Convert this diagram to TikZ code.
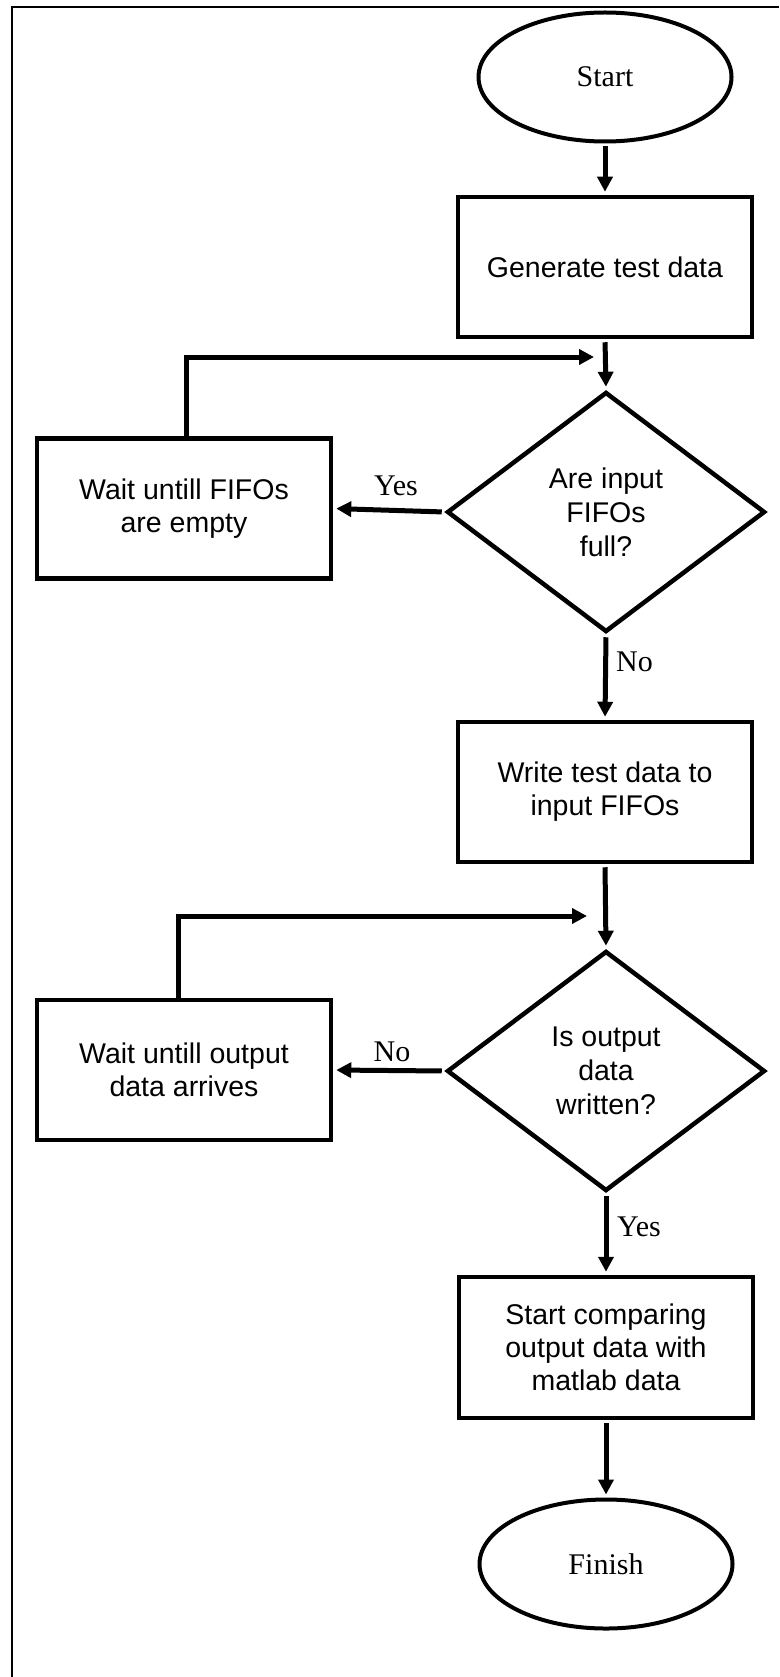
\documentclass[tikz,border=0pt]{standalone}
\usepackage{fontspec}
\setmainfont{Liberation Serif}
\newfontfamily\arialfont{Liberation Sans}
\usetikzlibrary{shapes.geometric,arrows.meta}

\begin{document}
\begin{tikzpicture}[x=1pt,y=-1pt,
  every node/.style={inner sep=0pt},
  procbox/.style={draw, rectangle, line width=4.5pt, minimum width=294pt,
    minimum height=140pt, align=center,
    font=\arialfont\fontsize{28.5}{33}\selectfont},
  termbox/.style={draw, ellipse, line width=4pt, minimum width=253pt,
    minimum height=129pt, font=\fontsize{30}{36}\selectfont},
  decbox/.style={draw, diamond, line width=4.5pt, aspect=1.325,
    minimum width=318pt, minimum height=240pt, align=center,
    font=\arialfont\fontsize{28.5}{34}\selectfont},
  flow/.style={-{Triangle[length=15pt,width=15pt]}, line width=5pt,
    shorten <=3pt, shorten >=3pt},
  loopline/.style={-{Triangle[length=15pt,width=15pt]}, line width=5pt},
  lbl/.style={font=\fontsize{30}{36}\selectfont}
]
\useasboundingbox (0,0) rectangle (779,1677);

% page frame
\draw[line width=2pt] (12,1677) -- (12,7.5) -- (779,7.5);

% nodes
\node[termbox] (start) at (605,77) {Start};
\node[procbox] (gen) at (605,267) {Generate test data};
\node[decbox] (full) at (606,512) {Are input\\FIFOs\\full?};
\node[procbox] (wait1) at (184,508.5) {Wait untill FIFOs\\are empty};
\node[procbox] (write) at (605,792) {Write test data to\\input FIFOs};
\node[decbox] (written) at (606,1071) {Is output\\data\\written?};
\node[procbox] (wait2) at (184,1070) {Wait untill output\\data arrives};
\node[procbox, minimum height=141pt] (cmp) at (606,1347.5)
  {Start comparing\\output data with\\matlab data};
\node[termbox] (finish) at (606,1564) {Finish};

% loop-back joints
\coordinate (j1) at (594,357);
\coordinate (j2) at (587,916);

% connectors
\draw[flow] (start) -- (gen);
\draw[flow] (gen.south) -- (full.north);
\draw[flow] (full.west) -- (wait1.east);
\draw[loopline] ([xshift=2pt]wait1.north) |- (j1);
\draw[flow] (full.south) -- (write.north);
\draw[flow] (write.south) -- (written.north);
\draw[flow] (written.west) -- (wait2.east);
\draw[loopline] ([xshift=-6pt]wait2.north) |- (j2);
\draw[flow] (written.south) -- (cmp.north);
\draw[flow] (cmp.south) -- (finish.north);

% branch labels
\node[lbl] (yes1) at (396,486) {Yes};
\node[lbl, anchor=west] (no1) at (616,662) {No};
\node[lbl] (no2) at (392,1052) {No};
\node[lbl, anchor=west] (yes2) at (617,1227) {Yes};
\end{tikzpicture}
\end{document}
